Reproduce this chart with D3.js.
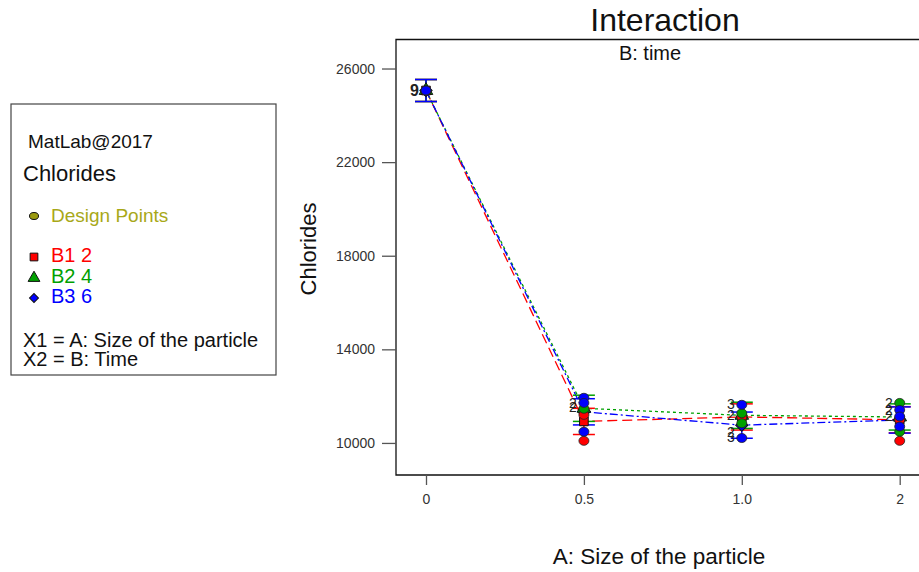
<!DOCTYPE html>
<html>
<head>
<meta charset="utf-8">
<script src="https://cdn.jsdelivr.net/npm/d3@7"></script>
<style>
  body { margin: 0; background: #fff; }
  text { font-family: Arial, "Liberation Sans", sans-serif; }
</style>
</head>
<body>
<div class="container"></div>
<script>
// chart data
var categories = ['0', '0.5', '1.0', '2'];
var yTicks = [10000, 14000, 18000, 22000, 26000];
var seriesNames = ['B1 2', 'B2 4', 'B3 6'];
var seriesColors = ['#ff0000', '#00a000', '#0000ff'];
var meanB1 = [25060, 10920, 11110, 10990];
var meanB2 = [25060, 11480, 11180, 11110];
var meanB3 = [25060, 11330, 10760, 10980];
var lsdHalf = [470, 560, 560, 560];
// design points: [category, value]
var pointsB1 = [['0', 25060], ['0.5', 11200], ['0.5', 10090], ['1.0', 11110], ['2', 10990], ['2', 10090]];
var pointsB2 = [['0', 25060], ['0.5', 11460], ['1.0', 11270], ['1.0', 10840], ['2', 11710], ['2', 10480]];
var pointsB3 = [['0', 25060], ['0.5', 11930], ['0.5', 11710], ['0.5', 10480], ['1.0', 11630], ['1.0', 10210], ['2', 11410], ['2', 11130], ['2', 10700]];
// replicate counts beside the points: [category, value, label]
var countLabels = [['0', 25060, '9'], ['0.5', 11720, '2'], ['0.5', 11520, '2'],
  ['1.0', 11650, '3'], ['1.0', 11180, '2'], ['1.0', 10450, '2'], ['1.0', 10250, '3'],
  ['2', 11700, '2'], ['2', 11390, '2'], ['2', 11150, '2']];

var means = [meanB1, meanB2, meanB3];
var points = [pointsB1, pointsB2, pointsB3];
var dashes = ['10,5', '3,3', '8,3,2,3'];
var symbols = [d3.symbolSquare, d3.symbolTriangle, d3.symbolSquare];
var rotations = [0, 0, 45];

var svg = d3.select('.container').append('svg')
  .attr('width', 919)
  .attr('height', 572);

var plot = { left: 396, right: 940, top: 39.5, bottom: 475 };

var x = d3.scalePoint().domain(categories).range([426, 899.7]);
var y = d3.scaleLinear().domain([8630, 27240]).range([plot.bottom, plot.top]);

// frame
svg.append('path')
  .attr('d', 'M' + plot.right + ',' + plot.top + 'H' + plot.left + 'V' + plot.bottom + 'H' + plot.right)
  .attr('fill', 'none').attr('stroke', '#111').attr('stroke-width', 1.3);

// axes
var yAxis = svg.append('g')
  .attr('transform', 'translate(' + plot.left + ',0)')
  .call(d3.axisLeft(y).tickValues(yTicks).tickSize(14).tickPadding(7).tickFormat(d3.format('d')));
yAxis.select('.domain').remove();
yAxis.selectAll('line').attr('stroke', '#555').attr('stroke-width', 1.3);
yAxis.selectAll('text').attr('fill', '#333').style('font-size', '14px');

var xAxis = svg.append('g')
  .attr('transform', 'translate(0,' + plot.bottom + ')')
  .call(d3.axisBottom(x).tickSize(10).tickPadding(9));
xAxis.select('.domain').remove();
xAxis.selectAll('line').attr('stroke', '#555').attr('stroke-width', 1.3);
xAxis.selectAll('text').attr('fill', '#333').style('font-size', '14px');

// titles
svg.append('text').attr('x', 665).attr('y', 31).attr('text-anchor', 'middle')
  .style('font-size', '32px').attr('fill', '#111').text('Interaction');
svg.append('text').attr('x', 650).attr('y', 60).attr('text-anchor', 'middle')
  .style('font-size', '20px').attr('fill', '#111').text('B: time');
svg.append('text').attr('x', 659).attr('y', 564).attr('text-anchor', 'middle')
  .style('font-size', '22.5px').attr('fill', '#111').text('A: Size of the particle');
svg.append('text').attr('transform', 'translate(316,249) rotate(-90)').attr('text-anchor', 'middle')
  .style('font-size', '22px').attr('fill', '#111').text('Chlorides');

// interaction lines
var line = d3.line()
  .x(function(d, i) { return x(categories[i]); })
  .y(function(d) { return y(d); });

means.forEach(function(m, s) {
  svg.append('path')
    .datum(m)
    .attr('d', line)
    .attr('fill', 'none')
    .attr('stroke', seriesColors[s])
    .attr('stroke-width', 1.3)
    .attr('stroke-dasharray', dashes[s]);
});

// LSD bars
means.forEach(function(m, s) {
  var g = svg.append('g').attr('stroke', seriesColors[s]).attr('stroke-width', 1.5);
  m.forEach(function(v, i) {
    var cx = x(categories[i]);
    var top = y(v + lsdHalf[i]), bot = y(v - lsdHalf[i]);
    g.append('line').attr('x1', cx).attr('x2', cx).attr('y1', top).attr('y2', bot);
    g.append('line').attr('x1', cx - 11).attr('x2', cx + 11).attr('y1', top).attr('y2', top);
    g.append('line').attr('x1', cx - 11).attr('x2', cx + 11).attr('y1', bot).attr('y2', bot);
  });
});

// predicted markers (B3 first so the B1 squares sit on top)
[2, 1, 0].forEach(function(s) {
  svg.selectAll('.mark' + s)
    .data(means[s])
    .enter()
    .append('path')
    .attr('class', 'mark' + s)
    .attr('d', d3.symbol().type(symbols[s]).size(s === 1 ? 80 : 75))
    .attr('transform', function(d, i) {
      return 'translate(' + x(categories[i]) + ',' + y(d) + ') rotate(' + rotations[s] + ')';
    })
    .attr('fill', seriesColors[s])
    .attr('stroke', '#111')
    .attr('stroke-width', 1);
});

// design points
points.forEach(function(p, s) {
  svg.selectAll('.pt' + s)
    .data(p)
    .enter()
    .append('ellipse')
    .attr('class', 'pt' + s)
    .attr('cx', function(d) { return x(d[0]); })
    .attr('cy', function(d) { return y(d[1]); })
    .attr('rx', 5).attr('ry', 4.5)
    .attr('fill', seriesColors[s])
    .attr('stroke', '#222')
    .attr('stroke-width', 0.8);
});

// counts
svg.selectAll('.count')
  .data(countLabels)
  .enter()
  .append('text')
  .attr('class', 'count')
  .attr('x', function(d) { return x(d[0]) - 7; })
  .attr('y', function(d) { return y(d[1]) + 5; })
  .attr('text-anchor', 'end')
  .style('font-size', function(d) { return d[0] === '0' ? '16px' : '14px'; })
  .style('font-weight', function(d) { return d[0] === '0' ? 'bold' : 'normal'; })
  .attr('fill', '#222')
  .text(function(d) { return d[2]; });

// legend box
var legend = svg.append('g');
legend.append('rect').attr('x', 11).attr('y', 104).attr('width', 265).attr('height', 271)
  .attr('fill', 'none').attr('stroke', '#444').attr('stroke-width', 1.2);
legend.append('text').attr('x', 28).attr('y', 148).style('font-size', '19px').attr('fill', '#111').text('MatLab@2017');
legend.append('text').attr('x', 23).attr('y', 181).style('font-size', '22px').attr('fill', '#111').text('Chlorides');
legend.append('ellipse').attr('cx', 34).attr('cy', 216).attr('rx', 4.5).attr('ry', 3.5)
  .attr('fill', '#9a9a10').attr('stroke', '#111').attr('stroke-width', 1);
legend.append('text').attr('x', 51).attr('y', 222).style('font-size', '19px').attr('fill', '#a8a818').text('Design Points');

var legendY = [262, 283, 303];
seriesNames.forEach(function(name, s) {
  legend.append('path')
    .attr('d', d3.symbol().type(symbols[s]).size(s === 2 ? 40 : 60))
    .attr('transform', 'translate(34,' + (legendY[s] - 5) + ') rotate(' + rotations[s] + ')')
    .attr('fill', seriesColors[s]).attr('stroke', '#111').attr('stroke-width', 1);
  legend.append('text').attr('x', 51).attr('y', legendY[s])
    .style('font-size', '20px').attr('fill', seriesColors[s]).text(name);
});
legend.append('text').attr('x', 23).attr('y', 347).style('font-size', '20px').attr('fill', '#111').text('X1 = A: Size of the particle');
legend.append('text').attr('x', 23).attr('y', 366).style('font-size', '20px').attr('fill', '#111').text('X2 = B: Time');
</script>
</body>
</html>
